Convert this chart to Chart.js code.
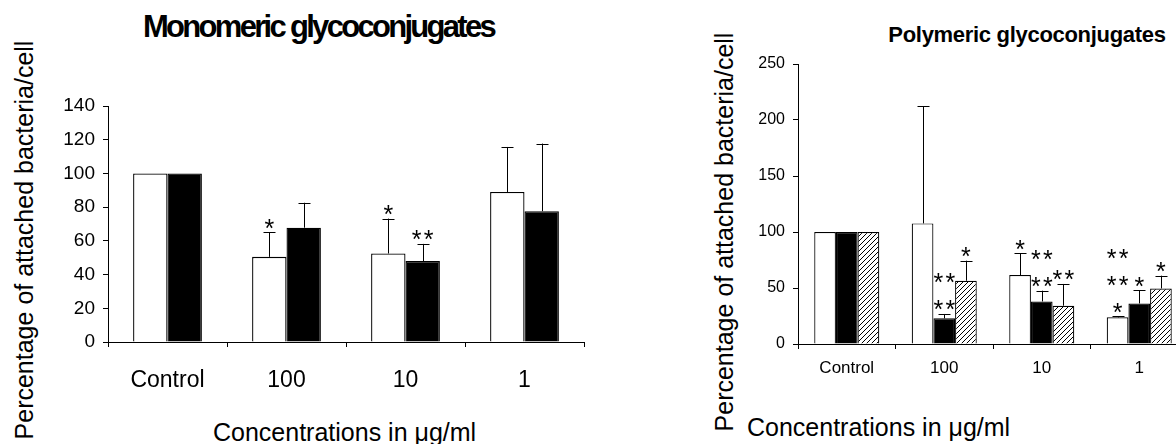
<!DOCTYPE html>
<html>
<head>
<meta charset="utf-8">
<script src="https://cdn.jsdelivr.net/npm/chart.js@4.4.1/dist/chart.umd.min.js"></script>
<style>
  html, body { margin: 0; padding: 0; background: #fff; overflow: hidden; }
  body { width: 1176px; height: 444px; position: relative; font-family: 'Liberation Sans', Arial, sans-serif; color: #000; }
  canvas { position: absolute; top: 0; }
  .txt { position: absolute; white-space: nowrap; line-height: 1; }
  .ytitle { transform: translate(-50%, -50%) rotate(-90deg); font-size: 25px; }
</style>
</head>
<body>
<div class="txt" style="left:143px; top:11px; font-size:31px; font-weight:bold; letter-spacing:-2.7px;">Monomeric glycoconjugates</div>
<div class="txt ytitle" style="left:24px; top:240px;">Percentage of attached bacteria/cell</div>
<div class="txt" style="left:213px; top:420px; font-size:25px;">Concentrations in μg/ml</div>
<canvas id="mono" width="600" height="444" style="left:0; width:600px; height:444px;"></canvas>

<div class="txt" style="left:1027px; top:24px; font-size:22px; font-weight:bold; letter-spacing:-0.3px; transform:translateX(-50%);">Polymeric glycoconjugates</div>
<div class="txt ytitle" style="left:724px; top:232px;">Percentage of attached bacteria/cell</div>
<div class="txt" style="left:747px; top:415px; font-size:25px;">Concentrations in μg/ml</div>
<canvas id="poly" width="520" height="444" style="left:680px; width:520px; height:444px;"></canvas>

<script>
// shared categories
const categories = ['Control', '100', '10', '1'];

// monomeric glycoconjugates: means, SD, and significance stars (asterisks per row, bottom up)
const monoWhite = [100, 50.5, 52.5, 89];
const monoWhiteSd = [0, 14.7, 20.7, 26.7];
const monoWhiteStars = [[], [1], [1], []];
const monoBlack = [100, 67.8, 48, 77.6];
const monoBlackSd = [0, 14.8, 10.2, 40.1];
const monoBlackStars = [[], [], [2], []];

// polymeric glycoconjugates
const polyWhite = [100, 107.7, 61.6, 23.8];
const polyWhiteSd = [0, 104.5, 19.3, 1];
const polyWhiteStars = [[], [], [1], [1, 2, 2]];
const polyBlack = [100, 22.9, 38, 36.2];
const polyBlackSd = [0, 3.9, 9.6, 12];
const polyBlackStars = [[], [2, 2], [2, 2], [1]];
const polyHatched = [100, 56.5, 34.2, 49.6];
const polyHatchedSd = [0, 17.9, 19.4, 11.4];
const polyHatchedStars = [[], [1], [2], [1]];

const FONT = "'Liberation Sans', Arial, sans-serif";

function hatch() {
  const c = document.createElement('canvas');
  c.width = 5; c.height = 5;
  const p = c.getContext('2d');
  p.fillStyle = '#fff';
  p.fillRect(0, 0, 5, 5);
  p.strokeStyle = '#000';
  p.lineWidth = 1;
  p.beginPath();
  p.moveTo(0, 5); p.lineTo(5, 0);
  p.moveTo(-1, 1); p.lineTo(1, -1);
  p.moveTo(4, 6); p.lineTo(6, 4);
  p.stroke();
  return p.createPattern(c, 'repeat');
}

// draws the upward SD whiskers and the asterisks above them
const errorBars = {
  id: 'errorBars',
  afterDatasetsDraw(chart, args, opts) {
    const ctx = chart.ctx;
    const ys = chart.scales.y;
    ctx.save();
    ctx.strokeStyle = '#000';
    ctx.fillStyle = '#000';
    ctx.lineWidth = 1;
    ctx.textAlign = 'center';
    ctx.textBaseline = 'alphabetic';
    ctx.font = opts.starSize + 'px ' + FONT;
    chart.data.datasets.forEach((ds, di) => {
      chart.getDatasetMeta(di).data.forEach((bar, i) => {
        let top = bar.y;
        const sd = ds.sd[i];
        if (sd > 0) {
          top = ys.getPixelForValue(ds.data[i] + sd);
          const x = Math.round(bar.x) + 0.5;
          ctx.beginPath();
          ctx.moveTo(x, bar.y);
          ctx.lineTo(x, top);
          ctx.moveTo(x - opts.cap, Math.round(top) + 0.5);
          ctx.lineTo(x + opts.cap, Math.round(top) + 0.5);
          ctx.stroke();
        }
        (ds.stars[i] || []).forEach((n, row) => {
          const cy = top - opts.gap - row * opts.rowGap;
          for (let k = 0; k < n; k++) {
            const cx = bar.x + (k - (n - 1) / 2) * opts.spacing;
            ctx.fillText('*', cx, cy + 0.58 * opts.starSize);
          }
        });
      });
    });
    ctx.restore();
  }
};

function axes(yMax, yStep, yFont, yWidth, xFont, xPad, xHeight) {
  return {
    x: {
      grid: { display: true, offset: true, drawOnChartArea: false, drawTicks: true, tickLength: 5, color: '#000' },
      border: { display: true, color: '#000', width: 1 },
      ticks: { color: '#000', font: xFont, padding: xPad, maxRotation: 0, autoSkip: false },
      afterFit(s) { s.height = xHeight; }
    },
    y: {
      min: 0,
      max: yMax,
      grid: { display: true, drawOnChartArea: false, drawTicks: true, tickLength: 5, color: '#000' },
      border: { display: true, color: '#000', width: 1 },
      ticks: { stepSize: yStep, color: '#000', font: yFont, padding: 8 },
      afterFit(s) { s.width = yWidth; }
    }
  };
}

new Chart(document.getElementById('mono'), {
  type: 'bar',
  data: {
    labels: categories,
    datasets: [
      { data: monoWhite, sd: monoWhiteSd, stars: monoWhiteStars, backgroundColor: '#fff', borderColor: '#000', borderWidth: 1.3 },
      { data: monoBlack, sd: monoBlackSd, stars: monoBlackStars, backgroundColor: '#000', borderColor: '#000', borderWidth: 1.3 }
    ]
  },
  options: {
    responsive: false,
    animation: false,
    devicePixelRatio: 1,
    categoryPercentage: 0.578,
    barPercentage: 1,
    layout: { padding: { top: 106, right: 16, bottom: 0, left: 0 } },
    plugins: {
      legend: { display: false },
      tooltip: { enabled: false },
      errorBars: { cap: 6, gap: 10, rowGap: 27, spacing: 12, starSize: 25 }
    },
    scales: axes(140, 20, { family: FONT, size: 19 }, 108, { family: FONT, size: 23 }, 20, 102)
  },
  plugins: [errorBars]
});

new Chart(document.getElementById('poly'), {
  type: 'bar',
  data: {
    labels: categories,
    datasets: [
      { data: polyWhite, sd: polyWhiteSd, stars: polyWhiteStars, backgroundColor: '#fff', borderColor: '#000', borderWidth: 1.2 },
      { data: polyBlack, sd: polyBlackSd, stars: polyBlackStars, backgroundColor: '#000', borderColor: '#000', borderWidth: 1.2 },
      { data: polyHatched, sd: polyHatchedSd, stars: polyHatchedStars, backgroundColor: hatch(), borderColor: '#000', borderWidth: 1.2 }
    ]
  },
  options: {
    responsive: false,
    animation: false,
    devicePixelRatio: 1,
    categoryPercentage: 0.667,
    barPercentage: 1,
    layout: { padding: { top: 64, right: 12, bottom: 0, left: 0 } },
    plugins: {
      legend: { display: false },
      tooltip: { enabled: false },
      errorBars: { cap: 6, gap: 10, rowGap: 27, spacing: 12, starSize: 25 }
    },
    scales: axes(250, 50, { family: FONT, size: 16 }, 118, { family: FONT, size: 17 }, 9, 100)
  },
  plugins: [errorBars]
});
</script>
</body>
</html>
